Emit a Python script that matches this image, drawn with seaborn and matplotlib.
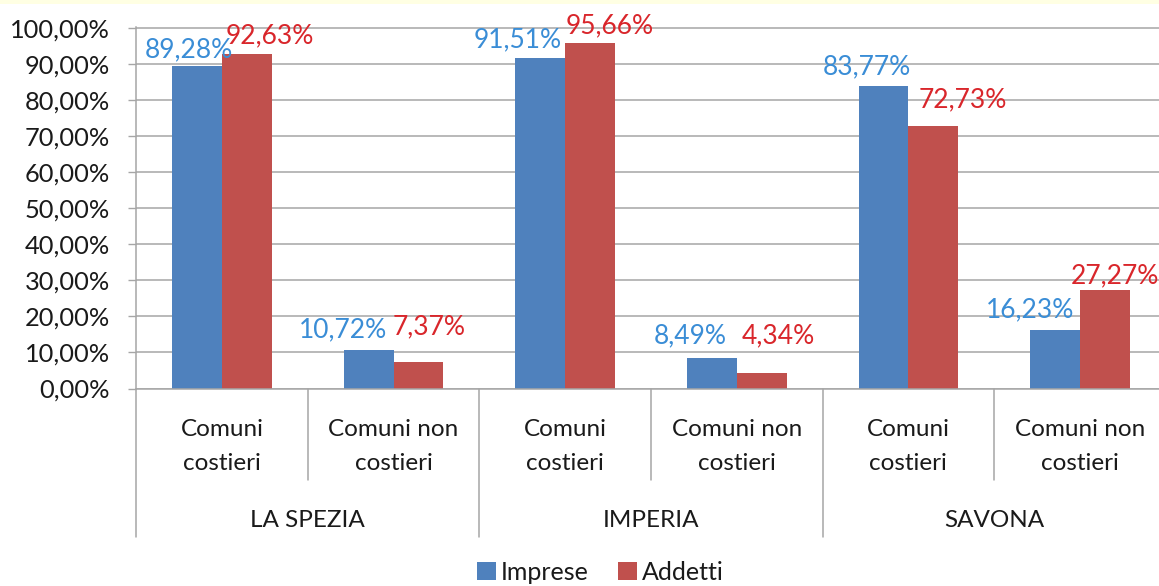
import matplotlib
matplotlib.use("Agg")
import matplotlib.pyplot as plt
import seaborn as sns
import pandas as pd
from matplotlib.patches import Patch, Rectangle
from matplotlib.transforms import blended_transform_factory

# ---- data ----
provinces = ["LA SPEZIA", "IMPERIA", "SAVONA"]
subcats = ["Comuni\ncostieri", "Comuni non\ncostieri"]
series = ["Imprese", "Addetti"]
imprese = [89.28, 10.72, 91.51, 8.49, 83.77, 16.23]
addetti = [92.63, 7.37, 95.66, 4.34, 72.73, 27.27]
yticks = [0, 10, 20, 30, 40, 50, 60, 70, 80, 90, 100]

# ---- style ----
bar_colors = ["#4F81BD", "#C0504D"]
label_colors = ["#3A8DD6", "#D9262B"]
# manual label nudges (pixels: dx, dy above bar top) as in the source chart
nudge_imp = [(-8.5, 9), (-25.5, 13), (-23, 11), (-22, 15), (-16.5, 12), (-25, 13)]
nudge_add = [(23, 11), (11, 28), (20, 10), (17, 30), (30, 19), (10, 7)]

keys = [f"{p}|{s}" for p in provinces for s in subcats]
rows = []
for k, a, b in zip(keys, imprese, addetti):
    rows.append({"key": k, "serie": series[0], "value": a})
    rows.append({"key": k, "serie": series[1], "value": b})
df = pd.DataFrame(rows)

sns.set_style("white")
plt.rcParams["font.family"] = ["Lato", "DejaVu Sans"]

W, H, DPI = 1159, 586, 100
fig = plt.figure(figsize=(W / DPI, H / DPI), dpi=DPI)
fig.patch.set_facecolor("white")
fig.patches.append(Rectangle((0, 1 - 4 / H), 1, 4 / H, transform=fig.transFigure,
                             facecolor="#FFFFE3", edgecolor="none", zorder=0))

left_px, right_px, y0_px, y100_px = 136.2, 1165.8, 388.5, 27.7
ax = fig.add_axes([left_px / W, 1 - y0_px / H, (right_px - left_px) / W,
                   (y0_px - y100_px) / H * 1.003])

sns.barplot(data=df, x="key", y="value", hue="serie", order=keys,
            hue_order=series, palette=bar_colors, width=0.58, saturation=1,
            dodge=True, legend=False, ax=ax, edgecolor="none", linewidth=0)

ax.set_xlim(-0.5, len(keys) - 0.5)
ax.set_ylim(0, 100.3)
ax.set_yticks(yticks)
ax.set_yticklabels([f"{t:.2f}%".replace(".", ",") for t in yticks], fontsize=18.3,
                   color="#1A1A1A")
ax.set_xticks([])
ax.set_xlabel("")
ax.set_ylabel("")
ax.yaxis.grid(True, color="#A6A6A6", linewidth=1.1)
ax.set_axisbelow(True)
ax.tick_params(axis="y", which="both", left=True, length=5.8, width=1,
               color="#A6A6A6", pad=13)
for side in ["top", "right"]:
    ax.spines[side].set_visible(False)
for side in ["left", "bottom"]:
    ax.spines[side].set_color("#A6A6A6")
    ax.spines[side].set_linewidth(1.1)

# data labels
px2pt = 72 / DPI
for cont, vals, nudges, col in zip(ax.containers, [imprese, addetti],
                                   [nudge_imp, nudge_add], label_colors):
    for bar, v, (dx, dy) in zip(cont, vals, nudges):
        cx = bar.get_x() + bar.get_width() / 2
        ax.annotate(f"{v:.2f}%".replace(".", ","), xy=(cx, v),
                    xytext=(dx * px2pt, dy * px2pt), textcoords="offset points",
                    ha="center", va="baseline", fontsize=19, color=col,
                    annotation_clip=False)

# multi-level category axis
trans = blended_transform_factory(ax.transData, ax.transAxes)
span = y0_px - y100_px
inner_depth = (y0_px - 480) / span
outer_depth = (y0_px - 536.7) / span
sub_y = (y0_px - 470) / span
grp_y = (y0_px - 527) / span
n_sub = len(subcats)
for i, k in enumerate(keys):
    ax.text(i, sub_y, subcats[i % n_sub], transform=trans, ha="center",
            va="baseline", fontsize=17.5, color="#1A1A1A", linespacing=1.75)
for i in range(len(keys) + 1):
    xb = i - 0.5
    depth = outer_depth if i % n_sub == 0 else inner_depth
    ax.plot([xb, xb], [0, depth], transform=trans, color="#A6A6A6",
            linewidth=1.1, clip_on=False)
for g, p in enumerate(provinces):
    xc = g * n_sub + (n_sub - 1) / 2
    ax.text(xc, grp_y, p, transform=trans, ha="center", va="baseline",
            fontsize=17.5, color="#1A1A1A")

handles = [Patch(facecolor=c, edgecolor="none") for c in bar_colors]
fig.legend(handles, series, loc="upper center", bbox_to_anchor=(0.518, 1 - 561 / H),
           ncol=2, frameon=False, fontsize=18, handlelength=0.75, handleheight=0.75,
           handletextpad=0.2, columnspacing=1.15, borderpad=0, borderaxespad=0,
           labelcolor="#1A1A1A")

fig.savefig("out.png", dpi=DPI, facecolor="white")
